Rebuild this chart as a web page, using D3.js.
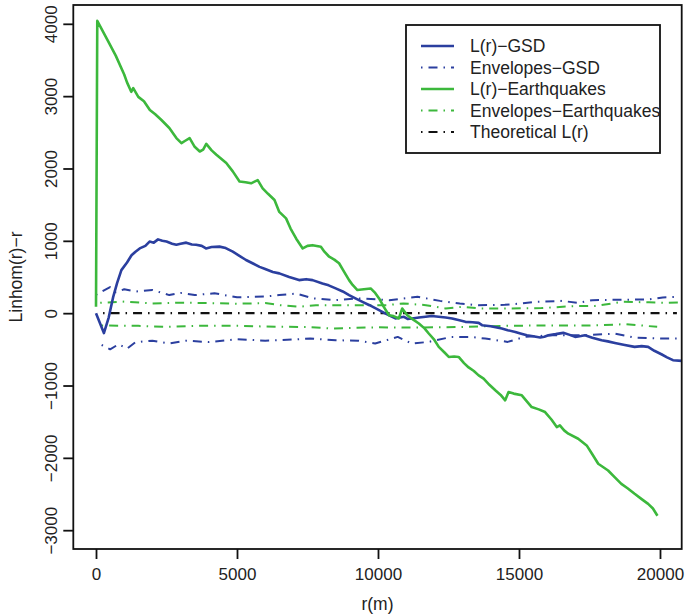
<!DOCTYPE html>
<html>
<head>
<meta charset="utf-8">
<script src="https://cdn.jsdelivr.net/npm/d3@7"></script>
<style>
  body { margin: 0; background: #fff; }
  text { font-family: "Liberation Sans", Arial, Helvetica, sans-serif; fill: #222; }
</style>
</head>
<body>
<div id="chart"></div>
<script>
// r (m) and L(r)-r values
const gsdL = [[0,0],[280,-275],[450,-60],[610,225],[750,420],[900,595],[1100,700],[1260,800],[1400,850],[1550,895],[1750,930],[1900,990],[2050,975],[2200,1020],[2350,1000],[2500,990],[2700,960],[2850,945],[3000,960],[3200,975],[3400,950],[3550,945],[3750,930],[3900,895],[4100,915],[4380,920],[4600,900],[4850,850],[5100,790],[5320,735],[5550,690],[5800,640],[6000,610],[6270,570],[6500,550],[6850,500],[7200,457],[7450,470],[7680,457],[8030,410],[8250,385],[8500,342],[8750,300],[8975,250],[9200,205],[9450,157],[9700,110],[9920,65],[10270,-5],[10450,-40],[10620,-73],[10780,-60],[10920,-50],[11050,-80],[11210,-73],[11450,-60],[11690,-50],[11900,-40],[12150,-50],[12400,-60],[12630,-73],[12850,-95],[13100,-120],[13350,-125],[13570,-134],[13690,-166],[14000,-180],[14390,-212],[14600,-235],[14870,-259],[15050,-280],[15280,-305],[15500,-320],[15750,-337],[15900,-325],[16040,-305],[16300,-290],[16570,-272],[16800,-300],[16990,-328],[17200,-315],[17340,-305],[17600,-340],[17930,-374],[18150,-390],[18400,-411],[18750,-440],[19100,-466],[19350,-455],[19580,-466],[19800,-520],[20050,-568],[20250,-610],[20460,-650],[20770,-660]];

const quakeL = [[0,90],[45,4040],[400,3780],[700,3560],[1000,3300],[1100,3190],[1250,3060],[1320,3110],[1500,2990],[1700,2930],[1910,2810],[2100,2750],[2320,2670],[2600,2560],[2850,2420],[3030,2350],[3150,2380],[3320,2420],[3500,2300],[3680,2235],[3800,2260],[3910,2340],[4100,2250],[4270,2190],[4450,2130],[4620,2075],[4850,1960],[5090,1820],[5300,1810],[5500,1795],[5735,1840],[5910,1725],[6100,1650],[6330,1565],[6500,1400],[6740,1310],[6900,1170],[7100,1030],[7330,895],[7500,930],[7680,940],[7975,918],[8100,850],[8270,780],[8450,740],[8620,690],[8800,570],[8975,457],[9100,390],[9270,320],[9500,330],[9740,342],[9900,280],[10040,203],[10200,90],[10390,-28],[10550,-40],[10740,-73],[10860,65],[11040,-28],[11250,-90],[11450,-143],[11650,-210],[11800,-281],[12000,-370],[12155,-466],[12350,-540],[12510,-605],[12700,-600],[12860,-605],[13050,-690],[13215,-750],[13400,-800],[13570,-860],[13745,-905],[13950,-990],[14160,-1066],[14350,-1130],[14510,-1205],[14630,-1090],[14810,-1112],[15100,-1136],[15300,-1230],[15450,-1298],[15700,-1330],[15925,-1367],[16150,-1470],[16340,-1575],[16450,-1551],[16600,-1620],[16750,-1666],[17100,-1736],[17400,-1828],[17600,-1950],[17810,-2082],[18160,-2175],[18400,-2270],[18630,-2359],[18850,-2420],[19100,-2497],[19350,-2570],[19580,-2636],[19750,-2700],[19910,-2800]];

const gsdEnvHi = [[0,255],[500,360],[700,290],[1000,330],[1400,300],[2000,320],[2600,250],[3000,280],[3500,250],[4200,275],[5000,220],[6000,230],[6500,250],[7100,270],[7700,205],[8500,180],[9300,205],[10400,180],[11400,226],[12200,170],[12900,134],[13500,111],[14500,115],[15100,134],[15600,157],[16500,170],[17100,143],[17600,180],[18500,185],[19600,190],[20100,217],[20700,226]];

const gsdEnvLo = [[200,-440],[500,-500],[800,-430],[1100,-490],[1400,-400],[2000,-380],[2600,-420],[3200,-380],[4000,-400],[5000,-360],[6000,-380],[6500,-374],[7600,-351],[8500,-374],[9300,-380],[9900,-420],[10300,-374],[10700,-328],[11200,-420],[11800,-397],[12600,-328],[13300,-328],[13800,-351],[14600,-397],[15200,-328],[16200,-305],[17400,-305],[18400,-282],[19100,-337],[20100,-351],[20600,-351]];

const quakeEnvHi = [[150,143],[1000,160],[2000,134],[3000,145],[4000,140],[5000,130],[6000,140],[6500,111],[7200,88],[7800,111],[9000,111],[10300,111],[10900,134],[11700,111],[12400,65],[13000,88],[13600,65],[14500,65],[15800,70],[16900,97],[17700,100],[18700,157],[19600,150],[20300,143],[20700,150]];

const quakeEnvLo = [[200,-170],[1500,-175],[2500,-189],[3500,-175],[5000,-175],[6500,-189],[7500,-190],[8300,-212],[10000,-195],[11300,-200],[13000,-190],[14500,-175],[16000,-170],[17500,-170],[18800,-152],[19900,-189]];

const theoretical = [[250,0],[20600,0]];

const xTicks = [0, 5000, 10000, 15000, 20000];
const yTicks = [-3000, -2000, -1000, 0, 1000, 2000, 3000, 4000];

const legendLabels = ["L(r)\u2212GSD", "Envelopes\u2212GSD", "L(r)\u2212Earthquakes", "Envelopes\u2212Earthquakes", "Theoretical L(r)"];

const blue = "#2b3f9f";
const green = "#3cb83c";
const dotdash = "1.5,6,9,6";

const W = 685, H = 616;
const box = { left: 73.3, right: 681.7, top: 5, bottom: 549 };

const svg = d3.select("#chart").append("svg")
    .attr("width", W)
    .attr("height", H);

const x = d3.scaleLinear().domain([-805, 20770]).range([box.left, box.right]);
const y = d3.scaleLinear().domain([-3260, 4260]).range([box.bottom, box.top]);

svg.append("defs").append("clipPath")
    .attr("id", "clip")
    .append("rect")
    .attr("x", box.left).attr("y", box.top)
    .attr("width", box.right - box.left)
    .attr("height", box.bottom - box.top);

const line = d3.line()
    .x(d => x(d[0]))
    .y(d => y(d[1]));

const plot = svg.append("g").attr("clip-path", "url(#clip)");

// series, drawn in R's order
const series = [
    { data: gsdEnvHi, color: blue, width: 2, dash: dotdash },
    { data: gsdEnvLo, color: blue, width: 2, dash: dotdash },
    { data: quakeEnvHi, color: green, width: 2, dash: dotdash },
    { data: quakeEnvLo, color: green, width: 2, dash: dotdash },
    { data: theoretical, color: "#111", width: 2.2, dash: dotdash },
    { data: gsdL, color: blue, width: 2.6, dash: null },
    { data: quakeL, color: green, width: 2.6, dash: null }
];

series.forEach(s => {
    plot.append("path")
        .datum(s.data)
        .attr("fill", "none")
        .attr("stroke", s.color)
        .attr("stroke-width", s.width)
        .attr("stroke-dasharray", s.dash)
        .attr("stroke-linejoin", "round")
        .attr("d", line);
});

// box
svg.append("rect")
    .attr("x", box.left).attr("y", box.top)
    .attr("width", box.right - box.left)
    .attr("height", box.bottom - box.top)
    .attr("fill", "none")
    .attr("stroke", "#111")
    .attr("stroke-width", 1.8);

// axes
const xAxis = svg.append("g")
    .attr("transform", `translate(0,${box.bottom})`)
    .call(d3.axisBottom(x).tickValues(xTicks).tickFormat(d3.format("d")).tickSize(10).tickPadding(9));
xAxis.select(".domain").remove();
xAxis.selectAll("line").attr("stroke", "#111").attr("stroke-width", 1.8);
xAxis.selectAll("text").style("font-size", "17px").attr("fill", "#222");

const yAxis = svg.append("g")
    .attr("transform", `translate(${box.left},0)`)
    .call(d3.axisLeft(y).tickValues(yTicks).tickFormat(d => d < 0 ? "\u2212" + Math.abs(d) : d).tickSize(10));
yAxis.select(".domain").remove();
yAxis.selectAll("line").attr("stroke", "#111").attr("stroke-width", 1.8);
yAxis.selectAll("text")
    .attr("x", null)
    .attr("dy", null)
    .attr("text-anchor", "middle")
    .attr("transform", "translate(-16,0) rotate(-90)")
    .style("font-size", "17px")
    .attr("fill", "#222");

svg.append("text")
    .attr("x", (box.left + box.right) / 2)
    .attr("y", 610)
    .attr("text-anchor", "middle")
    .style("font-size", "17.5px")
    .text("r(m)");

svg.append("text")
    .attr("transform", `translate(22,${(box.top + box.bottom) / 2}) rotate(-90)`)
    .attr("text-anchor", "middle")
    .style("font-size", "17.5px")
    .text("Linhom(r)\u2212r");

// legend
const legend = svg.append("g");
legend.append("rect")
    .attr("x", 406).attr("y", 25)
    .attr("width", 254).attr("height", 128)
    .attr("fill", "#fff")
    .attr("stroke", "#111")
    .attr("stroke-width", 1.8);

const legendStyle = [
    { color: blue, width: 2.6, dash: null },
    { color: blue, width: 2, dash: dotdash },
    { color: green, width: 2.6, dash: null },
    { color: green, width: 2, dash: dotdash },
    { color: "#111", width: 2.2, dash: dotdash }
];

legendLabels.forEach((label, i) => {
    const ly = 46 + i * 21.5;
    legend.append("line")
        .attr("x1", 421).attr("x2", 454)
        .attr("y1", ly).attr("y2", ly)
        .attr("stroke", legendStyle[i].color)
        .attr("stroke-width", legendStyle[i].width)
        .attr("stroke-dasharray", legendStyle[i].dash);
    legend.append("text")
        .attr("x", 470).attr("y", ly)
        .attr("dy", "0.35em")
        .style("font-size", "17.5px")
        .text(label);
});
</script>
</body>
</html>
